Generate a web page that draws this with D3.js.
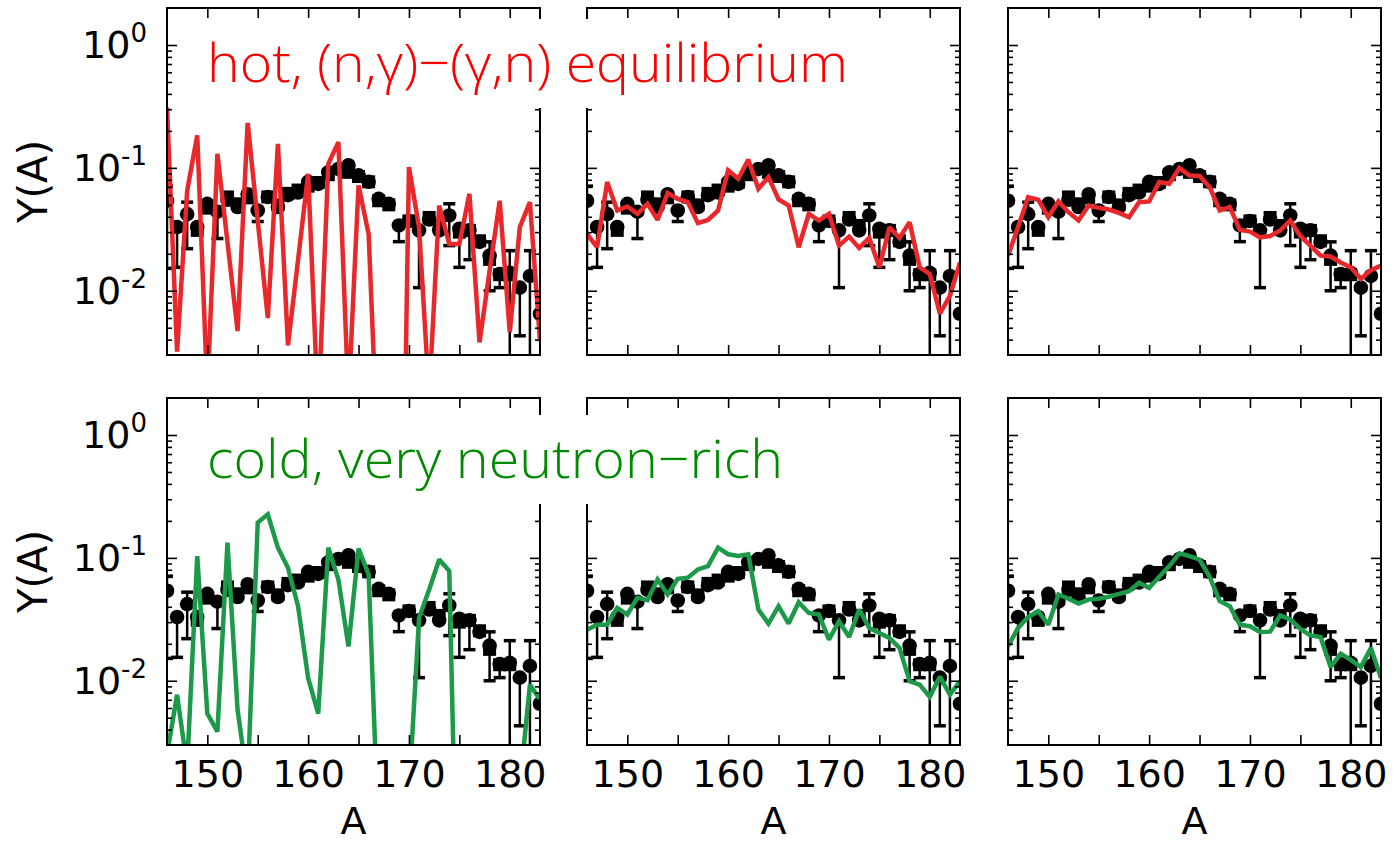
<!DOCTYPE html>
<html><head><meta charset="utf-8">
<script src="https://cdn.jsdelivr.net/npm/d3@7"></script>
<style>body{margin:0;background:#fff}svg{display:block}</style>
</head><body>
<svg id="c" width="1395" height="843"></svg>
<script>
// ---------------- data ----------------
const massNumbers = d3.range(146, 184); // A = 146 ... 183
const obsCircles = [0.054,0.033,0.042,0.033,0.051,0.044,0.055,0.048,0.061,0.045,0.058,0.048,0.060,0.063,0.077,0.074,0.092,0.098,0.105,0.087,0.077,0.056,0.051,0.034,0.037,0.031,0.038,0.031,0.041,0.032,0.031,0.025,0.0193,0.0137,0.014,0.0106,0.0132,0.0065];
const obsSquares = [[149,0.031],[150,0.047],[152,0.058],[153,0.051],[154,0.057],[156,0.058],[157,0.05],[158,0.062],[159,0.066],[160,0.071],[161,0.076],[162,0.088],[164,0.092],[165,0.085],[166,0.077],[167,0.054],[168,0.05],[170,0.037],[172,0.0395],[173,0.034],[175,0.03],[176,0.031],[177,0.0255],[178,0.018],[179,0.0135],[180,0.0135]];
const obsErrors = [[146,0.0152,0.071],[147,0.0155,0.033],[148,0.022,0.0526],[151,0.0266,0.044],[155,0.0366,0.045],[169,0.0251,0.034],[171,0.0106,0.031],[174,0.0233,0.051],[175,0.0155,0.032],[176,0.0179,0.031],[178,0.010,0.025],[179,0.0106,0.0137],[180,0.0005,0.0212],[181,0.0043,0.0106],[182,0.0005,0.0212]];

const hotLeft   = [0.31,0.0032,0.065,0.184,0.0015,0.13,0.0248,0.0047,0.232,0.037,0.006,0.157,0.0036,0.0178,0.0895,0.001,0.108,0.162,0.0013,0.072,0.029,0.0003,0.00001,0.000001,0.1016,0.033,0.0014,0.0494,0.024,0.024,0.0615,0.0038,0.0145,0.054,0.0046,0.033,0.0526,0.0039];
const hotMiddle = [0.029,0.0226,0.0766,0.045,0.0485,0.0423,0.051,0.0377,0.0623,0.056,0.0526,0.0355,0.0377,0.045,0.0955,0.0816,0.1166,0.0676,0.084,0.0553,0.0494,0.0226,0.0423,0.0373,0.0423,0.0233,0.0276,0.0223,0.0269,0.0155,0.0329,0.0269,0.0361,0.0155,0.0137,0.0065,0.0091,0.017];
const hotRight  = [0.0193,0.033,0.0578,0.055,0.0397,0.0533,0.0436,0.0373,0.0494,0.0473,0.0458,0.043,0.0397,0.0526,0.0533,0.0766,0.0743,0.0997,0.0868,0.086,0.0698,0.045,0.0479,0.0313,0.0303,0.0272,0.0279,0.0309,0.0373,0.0279,0.0233,0.0193,0.019,0.017,0.0155,0.0125,0.0147,0.016];
const coldLeft  = [0.0025,0.0077,0.002,0.1035,0.0054,0.00386,0.133,0.0058,0.0015,0.194,0.226,0.121,0.083,0.0404,0.0105,0.0054,0.121,0.0667,0.019,0.119,0.0733,0.0005,0.00001,0.00001,0.0012,0.0325,0.055,0.097,0.078,0.00002,0.00001,0.00001,0.00001,0.00001,0.00001,0.0014,0.0093,0.007];
const coldMiddle= [0.026,0.0286,0.0286,0.0392,0.0346,0.0473,0.0453,0.0667,0.0504,0.0676,0.069,0.0805,0.0858,0.121,0.107,0.1035,0.107,0.038,0.0292,0.0404,0.0292,0.0436,0.0356,0.0346,0.0216,0.0305,0.0227,0.038,0.0269,0.0245,0.0223,0.0185,0.0099,0.0093,0.0074,0.0108,0.0077,0.0099];
const coldRight = [0.019,0.0269,0.033,0.0368,0.0286,0.0504,0.0465,0.0425,0.0458,0.0465,0.0482,0.051,0.0536,0.0627,0.057,0.0702,0.0858,0.109,0.1035,0.097,0.0702,0.0444,0.0404,0.0286,0.0278,0.0249,0.0251,0.034,0.0315,0.0264,0.0234,0.0227,0.0129,0.0166,0.0148,0.0129,0.0185,0.0105];

const xMajorTicks = [150,155,160,165,170,175,180];
const xTickLabels = [150,160,170,180];
const yMajorTicks = [1, 0.1, 0.01];
const yTickExponents = ["0","-1","-2"];
const rowTitles = ["hot, (n,\u03b3)\u2212(\u03b3,n) equilibrium", "cold, very neutron\u2212rich"];
const rowTitleColors = ["#ff0000", "#008a00"];
const rowLineColors = ["#e8282b", "#1c9a4a"];
const modelSeries = [[hotLeft, hotMiddle, hotRight],[coldLeft, coldMiddle, coldRight]];

// ---------------- layout ----------------
const svg = d3.select('#c');
const panelLeft = [167, 587, 1008];
const rowTop = [8, 398];
const pw = 373, ph = 347;
const x = d3.scaleLinear().domain([146, 183]).range([0, pw]);
const y = d3.scaleLog().domain([0.003, 2]).range([ph, 0]);
const yMinor = [];
[-3,-2,-1,0].forEach(e => { for (let m = 2; m <= 9; m++) { const v = m * Math.pow(10, e); if (v > 0.003 && v < 2) yMinor.push(v); } });
const FONT = "'DejaVu Sans', sans-serif";

function drawPanel(row, col) {
  const g = svg.append('g').attr('transform', `translate(${panelLeft[col]},${rowTop[row]})`);
  const clipId = `clip${row}${col}`;
  g.append('clipPath').attr('id', clipId).append('rect').attr('width', pw).attr('height', ph);
  const body = g.append('g').attr('clip-path', `url(#${clipId})`);

  // error bars
  body.selectAll('line.err').data(obsErrors).enter().append('line')
    .attr('x1', d => x(d[0])).attr('x2', d => x(d[0]))
    .attr('y1', d => y(d[1])).attr('y2', d => y(d[2]))
    .attr('stroke', '#000').attr('stroke-width', 2.5);
  const caps = [];
  obsErrors.forEach(d => { caps.push([d[0], d[1]]); caps.push([d[0], d[2]]); });
  body.selectAll('line.cap').data(caps).enter().append('line')
    .attr('x1', d => x(d[0]) - 6).attr('x2', d => x(d[0]) + 6)
    .attr('y1', d => y(d[1])).attr('y2', d => y(d[1]))
    .attr('stroke', '#000').attr('stroke-width', 3.5);
  // squares
  body.selectAll('rect.sq').data(obsSquares).enter().append('rect')
    .attr('x', d => x(d[0]) - 6.5).attr('y', d => y(d[1]) - 6.5)
    .attr('width', 13).attr('height', 13).attr('fill', '#000');
  // circles
  body.selectAll('circle.obs').data(massNumbers).enter().append('circle')
    .attr('cx', d => x(d)).attr('cy', (d, i) => y(obsCircles[i]))
    .attr('r', 7.3).attr('fill', '#000');
  // model line
  const vals = modelSeries[row][col];
  const line = d3.line().x((d, i) => x(massNumbers[i])).y(d => y(d));
  body.append('path').datum(vals).attr('d', line)
    .attr('fill', 'none').attr('stroke', rowLineColors[row]).attr('stroke-width', 4.5)
    .attr('stroke-linejoin', 'miter').attr('stroke-miterlimit', 2);

  // axes (inward ticks, all four sides)
  const isBottom = row === 1, isLeft = col === 0;
  const axB = g.append('g').attr('transform', `translate(0,${ph})`)
    .call(d3.axisBottom(x).tickValues(xMajorTicks).tickSize(-10).tickPadding(15)
      .tickFormat(d => (isBottom && xTickLabels.includes(d)) ? d : ''));
  const axT = g.append('g')
    .call(d3.axisTop(x).tickValues(xMajorTicks).tickSize(-10).tickFormat(''));
  const axL = g.append('g')
    .call(d3.axisLeft(y).tickValues(yMajorTicks).tickSize(-10).tickFormat(''));
  const axLm = g.append('g')
    .call(d3.axisLeft(y).tickValues(yMinor).tickSize(-5).tickFormat(''));
  const axR = g.append('g').attr('transform', `translate(${pw},0)`)
    .call(d3.axisRight(y).tickValues(yMajorTicks).tickSize(-10).tickFormat(''));
  const axRm = g.append('g').attr('transform', `translate(${pw},0)`)
    .call(d3.axisRight(y).tickValues(yMinor).tickSize(-5).tickFormat(''));
  [axB, axT, axL, axLm, axR, axRm].forEach(a => {
    a.select('.domain').remove();
    a.selectAll('.tick line').attr('stroke', '#000').attr('stroke-width', 1.6);
  });
  axB.selectAll('.tick text').attr('font-family', FONT).attr('font-size', 38).attr('fill', '#000');

  if (isLeft) {
    yMajorTicks.forEach((v, i) => {
      const t = g.append('text').attr('x', -20).attr('y', y(v) + 13)
        .attr('text-anchor', 'end').attr('font-family', FONT).attr('font-size', 38).attr('fill', '#000');
      t.append('tspan').text('10');
      t.append('tspan').attr('dy', -16).attr('font-size', 26).text(yTickExponents[i]);
    });
    g.append('text').attr('transform', `translate(${47 - panelLeft[col]},${ph / 2}) rotate(-90)`)
      .attr('text-anchor', 'middle').attr('font-family', FONT).attr('font-size', 40).attr('fill', '#000')
      .text('Y(A)');
  }
  if (isBottom) {
    g.append('text').attr('x', pw / 2).attr('y', 834 - rowTop[row])
      .attr('text-anchor', 'middle').attr('font-family', FONT).attr('font-size', 38).attr('fill', '#000')
      .text('A');
  }
  // frame
  g.append('rect').attr('width', pw).attr('height', ph)
    .attr('fill', 'none').attr('stroke', '#000').attr('stroke-width', 2);
}

[0, 1].forEach(r => [0, 1, 2].forEach(c => drawPanel(r, c)));

// row titles with white boxes
const titleBase = [82, 478];
const titleWidth = [641, 576];
[0, 1].forEach(r => {
  svg.append('rect').attr('x', 196).attr('y', titleBase[r] - 63)
    .attr('width', titleWidth[r] + 24).attr('height', 89).attr('fill', '#fff');
  svg.append('text').attr('x', 207).attr('y', titleBase[r])
    .attr('font-family', "'Open Sans', 'Lato', sans-serif").attr('font-weight', 300)
    .attr('font-size', 54).attr('fill', rowTitleColors[r])
    .attr('textLength', titleWidth[r]).attr('lengthAdjust', 'spacingAndGlyphs')
    .text(rowTitles[r]);
});
</script>
</body></html>
